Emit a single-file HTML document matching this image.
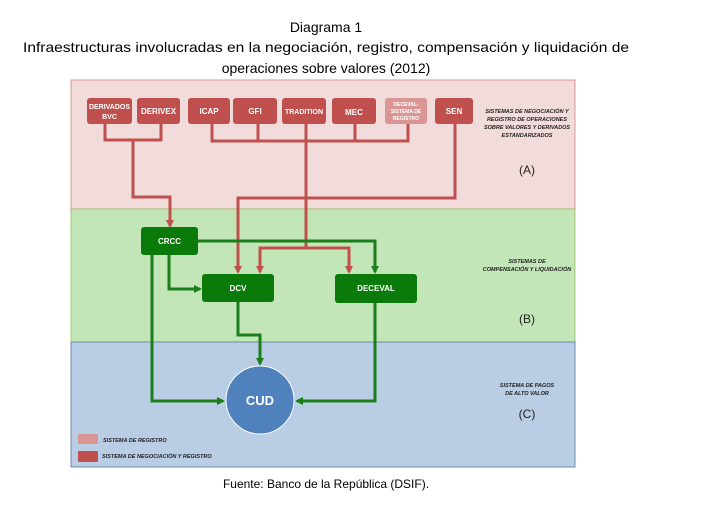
<!DOCTYPE html>
<html><head><meta charset="utf-8"><style>
body{margin:0;background:#fff;width:703px;height:508px;overflow:hidden}
svg{display:block}
</style></head><body>
<svg width="703" height="508" viewBox="0 0 703 508" font-family="Liberation Sans, sans-serif">
<defs>
<marker id="ar" markerWidth="8" markerHeight="8" refX="6" refY="4" orient="auto" markerUnits="userSpaceOnUse"><path d="M0,0 L8,4 L0,8 z" fill="#c0504d"/></marker>
<marker id="ag" markerWidth="8" markerHeight="8" refX="6" refY="4" orient="auto" markerUnits="userSpaceOnUse"><path d="M0,0 L8,4 L0,8 z" fill="#1a7f1a"/></marker>
</defs>
<text x="326" y="32" font-size="14" text-anchor="middle">Diagrama 1</text>
<text x="326" y="52" font-size="14" text-anchor="middle" textLength="606" lengthAdjust="spacingAndGlyphs">Infraestructuras involucradas en la negociación, registro, compensación y liquidación de</text>
<text x="326" y="73" font-size="14" text-anchor="middle">operaciones sobre valores (2012)</text>
<rect x="71" y="80" width="504" height="129" fill="#f2dcdb" stroke="#d99694"/>
<rect x="71" y="209" width="504" height="133" fill="#c3e6b8" stroke="#9bbb59" stroke-width="0.8"/>
<rect x="71" y="342" width="504" height="125" fill="#b9cde5" stroke="#6d8aa8"/>
<g stroke="#c0504d" stroke-width="3" fill="none">
<path d="M105,124 V140 H161 V124"/>
<path d="M133,140 V197 H170 V226" marker-end="url(#ar)"/>
<path d="M212,124 V141 H408 V124 M258,124 V141 M355,124 V141"/>
<path d="M306,124 V248"/>
<path d="M260,272 V248 H349 V272" />
<path d="M455,124 V198 H238 V272" marker-end="url(#ar)"/>
<path d="M260,250 V272" marker-end="url(#ar)"/>
<path d="M349,250 V272" marker-end="url(#ar)"/>
</g>
<g font-size="7" font-weight="bold" fill="#fff" text-anchor="middle">
<rect x="87" y="98" width="45" height="26" rx="3" fill="#c0504d"/><text x="109.5" y="109">DERIVADOS</text><text x="109.5" y="119">BVC</text>
<rect x="137" y="98" width="43" height="26" rx="3" fill="#c0504d"/><text x="158.5" y="114" font-size="8">DERIVEX</text>
<rect x="188" y="98" width="42" height="26" rx="3" fill="#c0504d"/><text x="209" y="114" font-size="8">ICAP</text>
<rect x="233" y="98" width="44" height="26" rx="3" fill="#c0504d"/><text x="255" y="114" font-size="8">GFI</text>
<rect x="282" y="98" width="44" height="26" rx="3" fill="#c0504d"/><text x="304" y="114">TRADITION</text>
<rect x="332" y="98" width="44" height="26" rx="3" fill="#c0504d"/><text x="354" y="115" font-size="8">MEC</text>
<rect x="385" y="98" width="42" height="26" rx="3" fill="#d99694"/><text x="406" y="106" font-size="5">DECEVAL-</text><text x="406" y="113" font-size="5">SISTEMA DE</text><text x="406" y="120" font-size="5">REGISTRO</text>
<rect x="435" y="98" width="38" height="26" rx="3" fill="#c0504d"/><text x="454" y="114" font-size="8">SEN</text>
</g>
<g stroke="#1a7f1a" stroke-width="3" fill="none">
<path d="M198,241 H375 V272" marker-end="url(#ag)"/>
<path d="M169,255 V289 H200" marker-end="url(#ag)"/>
<path d="M152,255 V401 H223" marker-end="url(#ag)"/>
<path d="M238,302 V335 H260 V364" marker-end="url(#ag)"/>
<path d="M375,303 V401 H297" marker-end="url(#ag)"/>
</g>
<g font-size="8" font-weight="bold" fill="#fff" text-anchor="middle">
<rect x="141" y="227" width="57" height="28" rx="3" fill="#0a7a0a"/><text x="169.5" y="244">CRCC</text>
<rect x="202" y="274" width="72" height="28" rx="3" fill="#0a7a0a"/><text x="238" y="291">DCV</text>
<rect x="335" y="274" width="82" height="29" rx="3" fill="#0a7a0a"/><text x="376" y="291">DECEVAL</text>
</g>
<circle cx="260" cy="400" r="34" fill="#4f81bd" stroke="#fff" stroke-width="1"/>
<text x="260" y="405" font-size="13" font-weight="bold" fill="#fff" text-anchor="middle">CUD</text>
<g font-size="5.5" font-weight="bold" font-style="italic" fill="#222" text-anchor="middle">
<text x="527" y="113">SISTEMAS DE NEGOCIACIÓN Y</text>
<text x="527" y="121">REGISTRO DE OPERACIONES</text>
<text x="527" y="129">SOBRE VALORES Y DERIVADOS</text>
<text x="527" y="137">ESTANDARIZADOS</text>
<text x="527" y="263">SISTEMAS DE</text>
<text x="527" y="271">COMPENSACIÓN  Y LIQUIDACIÓN</text>
<text x="527" y="387">SISTEMA DE PAGOS</text>
<text x="527" y="395">DE ALTO VALOR</text>
</g>
<g font-size="12" fill="#222" text-anchor="middle">
<text x="527" y="174">(A)</text>
<text x="527" y="323">(B)</text>
<text x="527" y="418">(C)</text>
</g>
<rect x="78" y="434" width="20" height="10" rx="1" fill="#d99694"/>
<rect x="78" y="451" width="20" height="11" rx="1" fill="#c0504d"/>
<g font-size="5.5" font-weight="bold" font-style="italic" fill="#222">
<text x="103" y="442">SISTEMA DE REGISTRO</text>
<text x="102" y="458">SISTEMA DE NEGOCIACIÓN Y REGISTRO</text>
</g>
<text x="326" y="488" font-size="12" text-anchor="middle">Fuente: Banco de la República (DSIF).</text>
</svg>
</body></html>
